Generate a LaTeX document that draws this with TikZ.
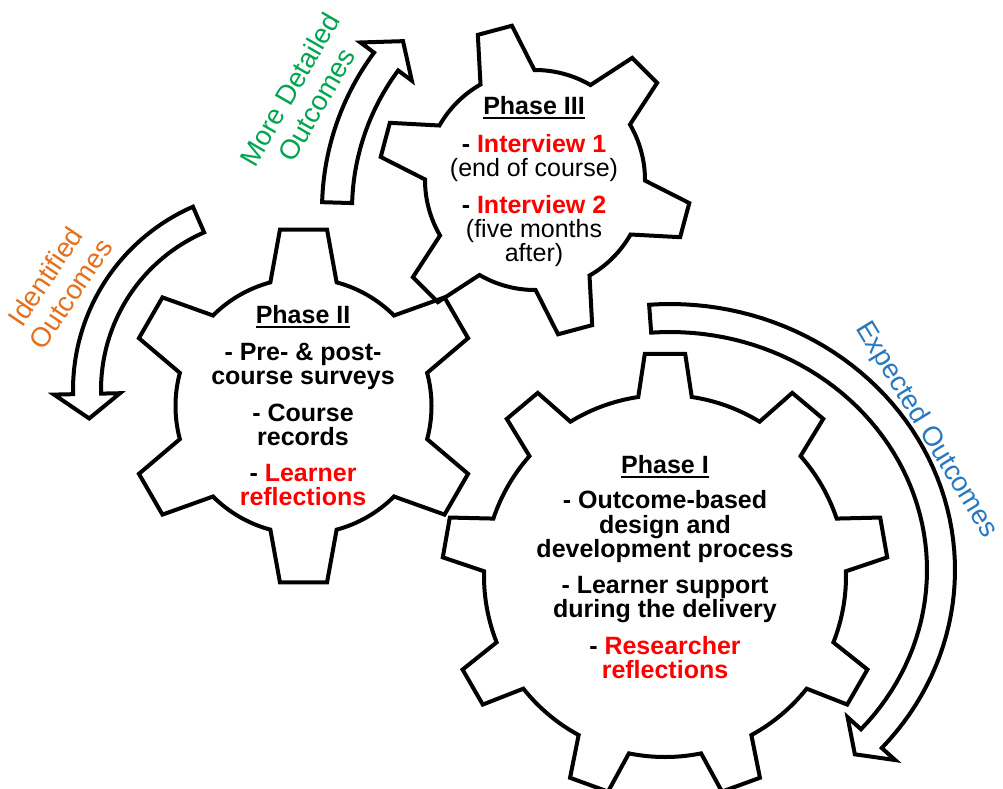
\documentclass[tikz,border=0pt]{standalone}
\usepackage{fontspec}
\setmainfont{Liberation Sans}
\definecolor{ocgreen}{RGB}{0,165,80}
\definecolor{ocorange}{RGB}{228,112,30}
\definecolor{ocblue}{RGB}{40,120,192}
\definecolor{ocred}{RGB}{255,0,0}
\newcommand\rt[1]{\textcolor{ocred}{#1}}
\newcommand\phul[1]{\setbox0\hbox{#1}\rlap{\rule[-4.5pt]{\wd0}{2.2pt}}\box0}
% cx cy n Rtip Rroot halfTip halfRoot firstAngle
\newcommand\gearshape[8]{%
  \begin{scope}[shift={(#1,#2)}]
  \pgfmathsetmacro\gearS{360/#3}
  \draw[gearline] (#8-#7:#5)
    \foreach \gi [evaluate=\gi as \gearT using {#8+(\gi-1)*\gearS}] in {1,...,#3} {
      -- (\gearT-#6:#4) -- (\gearT+#6:#4) -- (\gearT+#7:#5)
      arc[start angle=\gearT+#7, end angle=\gearT+\gearS-#7, radius=#5 pt]
    } -- cycle;
  \end{scope}}
% cx cy rx ry halfShaft halfHead t0 t1 tip
\newcommand\carrow[9]{%
  \draw[arrowline]
   plot[variable=\tv,domain=#7:#8,samples=60] ({#1+(#3+#5)*cos(\tv)},{#2+(#4+#5)*sin(\tv)})
   -- ({#1+(#3+#6)*cos(#8)},{#2+(#4+#6)*sin(#8)})
   -- ({#1+#3*cos(#9)},{#2+#4*sin(#9)})
   -- ({#1+(#3-#6)*cos(#8)},{#2+(#4-#6)*sin(#8)})
   -- plot[variable=\tv,domain=#8:#7,samples=60] ({#1+(#3-#5)*cos(\tv)},{#2+(#4-#5)*sin(\tv)})
   -- cycle;}
\begin{document}
\begin{tikzpicture}[x=1pt,y=1pt,yscale=-1,
  gearline/.style={line width=4pt, line join=miter, black},
  arrowline/.style={line width=4pt, line join=miter, black, fill=white},
  phasetxt/.style={font=\bfseries\fontsize{25}{24.5}\selectfont, align=center, inner sep=0pt, anchor=north},
  arrtxt/.style={font=\fontsize{27.5}{31}\selectfont, align=center, inner sep=0pt}]
\useasboundingbox (0,0) rectangle (1003,788);
\fill[white] (0,0) rectangle (1003,788);
% gears
\gearshape{665}{576}{9}{223}{181}{5.2}{8.5}{-90}
\gearshape{303.5}{406}{6}{178}{128}{7.6}{15}{-90}
\gearshape{535}{180}{6}{156}{110}{6.5}{14.7}{-105}
% curved arrows
\carrow{586}{210}{249}{249}{15}{32}{181.7}{216.6}{222.7}
\carrow{273}{390}{186}{186}{14}{33}{246.4}{178.8}{171.2}
\carrow{670}{570}{271}{252}{14}{32}{-94.2}{42}{47}
% arrow labels
\node[arrtxt, text=ocgreen, rotate=60] (lmore) at (303,97) {More Detailed\\Outcomes};
\node[arrtxt, text=ocorange, rotate=56] (lident) at (58,285) {Identified\\Outcomes};
\node[arrtxt, text=ocblue, rotate=-58.5] (lexp) at (926,430) {Expected Outcomes};
% gear texts
\node[phasetxt] (p1) at (665,455) {\phul{Phase I}\\[11pt]
  - Outcome-based\\ design and\\ development process\\[11pt]
  - Learner support\\ during the delivery\\[12pt]
  - \rt{Researcher}\\ \rt{reflections}};
\node[phasetxt, font=\bfseries\fontsize{25}{24}\selectfont] (p2) at (303,305) {\phul{Phase II}\\[13pt]
  - Pre- \& post-\\ course surveys\\[13pt]
  - Course\\ records\\[12pt]
  - \rt{Learner}\\ \rt{reflections}};
\node[phasetxt, font=\bfseries\fontsize{25}{24}\selectfont] (p3) at (534,96) {\phul{Phase III}\\[14pt]
  - \rt{Interview 1}\\ {\mdseries (end of course)}\\[13pt]
  - \rt{Interview 2}\\ {\mdseries (five months}\\ {\mdseries after)}};
\end{tikzpicture}
\end{document}
